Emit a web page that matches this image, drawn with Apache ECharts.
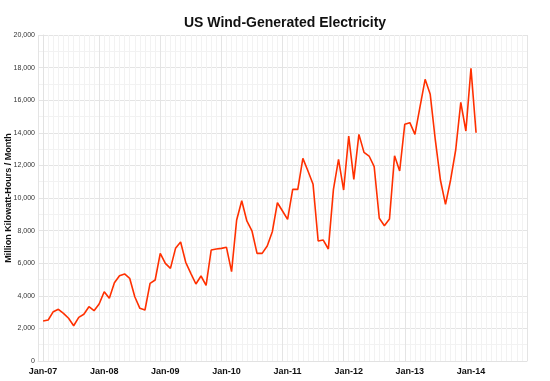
<!DOCTYPE html>
<html>
<head>
<meta charset="utf-8">
<script src="https://cdn.jsdelivr.net/npm/echarts@6/dist/echarts.min.js"></script>
<style>html,body{margin:0;padding:0;background:#fff}#c{width:550px;height:381px}</style>
</head>
<body>
<div id="c"></div>
<script>
// Monthly values, Jan-07 .. Feb-14 (million kWh)
var values = [
  2450, 2515, 3025, 3170, 2925, 2620, 2165, 2680, 2865, 3330, 3085, 3500,
  4250, 3845, 4800, 5235, 5340, 5075, 3945, 3230, 3130, 4765, 4970, 6600,
  5990, 5685, 6910, 7300, 6055, 5380, 4725, 5215, 4645, 6810, 6870, 6910,
  6975, 5480, 8650, 9835, 8590, 7990, 6605, 6605, 7055, 7930, 9710, 9200,
  8690, 10530, 10530, 12430, 11655, 10840, 7360, 7420, 6870, 10530, 12370, 10490,
  13800, 11145, 13905, 12800, 12575, 11920, 8755, 8300, 8710, 12595, 11655, 14520,
  14620, 13905, 15600, 17280, 16360, 13560, 11105, 9610, 11105, 12945, 15870, 14110,
  17955, 14005
];
var xTickLabels = ['Jan-07','Jan-08','Jan-09','Jan-10','Jan-11','Jan-12','Jan-13','Jan-14'];
var yTickLabels = ['0','2,000','4,000','6,000','8,000','10,000','12,000','14,000','16,000','18,000','20,000'];

var AX_MIN = -1, AX_MAX = 95;
var cats = [];
for (var i = AX_MIN; i <= AX_MAX; i++) {
  cats.push((i >= 0 && i % 12 === 0 && xTickLabels[i / 12]) ? xTickLabels[i / 12] : '');
}

var chart = echarts.init(document.getElementById('c'), null, {renderer: 'canvas'});
chart.setOption({
  animation: false,
  backgroundColor: '#fff',
  title: {
    text: 'US Wind-Generated Electricity',
    left: 179, top: 11,
    textStyle: {fontFamily: 'Liberation Sans', fontSize: 14, fontWeight: 'bold', color: '#111'}
  },
  grid: {left: 38, top: 35, right: 23, bottom: 20, containLabel: false, outerBoundsMode: 'none'},
  xAxis: [{
    type: 'value', min: AX_MIN, max: AX_MAX, interval: 12,
    axisLine: {show: true, lineStyle: {color: '#e2e2e2'}},
    axisTick: {show: false},
    axisLabel: {show: false},
    splitLine: {show: true, lineStyle: {color: '#e4e4e4', width: 1}},
    minorTick: {show: false, splitNumber: 12},
    minorSplitLine: {show: true, lineStyle: {color: '#f2f2f2', width: 1}}
  }, {
    type: 'category', data: cats, boundaryGap: false, position: 'bottom',
    axisLine: {show: false}, axisTick: {show: false}, splitLine: {show: false},
    axisLabel: {interval: 0, margin: 6, fontFamily: 'Liberation Sans', fontSize: 9, fontWeight: 'bold', color: '#111'}
  }],
  yAxis: {
    type: 'value', min: 0, max: 20000, interval: 2000,
    name: 'Million Kilowatt-Hours / Month',
    nameLocation: 'middle', nameGap: 25, nameMoveOverlap: false,
    nameTextStyle: {fontFamily: 'Liberation Sans', fontSize: 9, fontWeight: 'bold', color: '#111'},
    axisLine: {show: true, lineStyle: {color: '#e2e2e2'}},
    axisTick: {show: false},
    axisLabel: {
      margin: 3, fontFamily: 'Liberation Sans', fontSize: 7, color: '#333',
      formatter: function (v) { return yTickLabels[Math.round(v / 2000)]; }
    },
    splitLine: {show: true, lineStyle: {color: '#e4e4e4', width: 1}},
    minorTick: {show: false, splitNumber: 2},
    minorSplitLine: {show: true, lineStyle: {color: '#f2f2f2', width: 1}}
  },
  series: [{
    type: 'line', xAxisIndex: 0,
    data: values.map(function (v, i) { return [i, v]; }),
    showSymbol: false, symbol: 'none',
    lineStyle: {color: '#ff3000', width: 1.6},
    itemStyle: {color: '#ff3000'}
  }]
});
</script>
</body>
</html>
